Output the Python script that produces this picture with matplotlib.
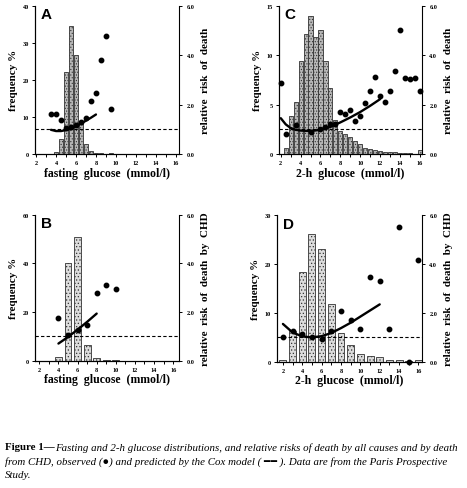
import matplotlib
matplotlib.use("Agg")
import numpy as np
from matplotlib import pyplot as plt

# ---- data ----
# A: fasting glucose, all-cause death
a_bin = [3.5, 4.0, 4.5, 5.0, 5.5, 6.0, 6.5, 7.0, 7.5, 8.0, 8.5, 9.0, 9.5]
a_freq = [0.1, 0.5, 4.1, 22.1, 34.6, 26.6, 8.8, 2.8, 0.8, 0.4, 0.2, 0.1, 0.3]
a_obs_x = [3.5, 4.0, 4.5, 5.0, 5.5, 6.0, 6.5, 7.0, 7.5, 8.0, 8.5, 9.0, 9.5]
a_obs_rr = [1.63, 1.63, 1.36, 1.04, 1.08, 1.18, 1.29, 1.46, 2.14, 2.47, 3.79, 4.78, 1.83]
a_fit_x = [3.5, 4.0, 4.5, 5.0, 5.5, 6.0, 6.5, 7.0, 7.5, 8.0]
a_fit_rr = [0.98, 0.93, 0.93, 0.97, 1.04, 1.13, 1.23, 1.35, 1.47, 1.60]

# B: fasting glucose, CHD death
b_bin = [4, 5, 6, 7, 8, 9, 10]
b_freq = [1.6, 40.2, 50.8, 6.7, 1.0, 0.3, 0.2]
b_obs_x = [4, 5, 6, 7, 8, 9, 10]
b_obs_rr = [1.76, 1.08, 1.25, 1.49, 2.79, 3.13, 2.94]
b_fit_x = [4, 5, 6, 7, 8]
b_fit_rr = [0.71, 0.98, 1.28, 1.60, 1.94]

# C: 2-h glucose, all-cause death
c_bin = [2.5, 3.0, 3.5, 4.0, 4.5, 5.0, 5.5, 6.0, 6.5, 7.0, 7.5, 8.0, 8.5, 9.0,
         9.5, 10.0, 10.5, 11.0, 11.5, 12.0, 12.5, 13.0, 13.5, 14.0, 14.5, 15.0,
         15.5, 16.0]
c_freq = [0.6, 3.8, 5.3, 9.4, 12.1, 14.0, 11.8, 12.6, 9.4, 6.7, 3.4, 2.3,
          2.0, 1.7, 1.3, 1.0, 0.6, 0.5, 0.4, 0.3, 0.2, 0.2, 0.2, 0.1, 0.1,
          0.1, 0.05, 0.4]
c_obs_x = [2.0, 2.5, 3.5, 5.0, 6.0, 6.5, 7.0, 7.5, 8.0, 8.5, 9.0, 9.5, 10.0,
           10.5, 11.0, 11.5, 12.0, 12.5, 13.0, 13.5, 14.0, 14.5, 15.0, 15.5, 16.0]
c_obs_rr = [2.88, 0.82, 1.17, 0.90, 1.00, 1.10, 1.20, 1.20, 1.71, 1.63, 1.77,
            1.35, 1.54, 2.08, 2.56, 3.13, 2.34, 2.10, 2.56, 3.36, 5.04, 3.09,
            3.03, 3.09, 2.56]
c_fit_x = [2, 2.5, 3, 3.5, 4, 5, 6, 7, 8, 9, 10, 11, 12]
c_fit_rr = [1.45, 1.20, 1.05, 0.98, 0.95, 0.93, 0.98, 1.10, 1.28, 1.48, 1.70, 1.95, 2.22]

# D: 2-h glucose, CHD death
d_bin = [2, 3, 4, 5, 6, 7, 8, 9, 10, 11, 12, 13, 14, 15, 16]
d_freq = [0.3, 6.3, 18.4, 26.1, 23.0, 11.9, 5.9, 3.5, 1.7, 1.2, 0.9, 0.3, 0.3, 0.1, 0.4]
d_obs_x = [2, 3, 4, 5, 6, 7, 8, 9, 10, 11, 12, 13, 14, 15, 16]
d_obs_rr = [1.01, 1.27, 1.13, 1.02, 0.95, 1.27, 2.09, 1.72, 1.34, 3.45, 3.32,
            1.34, 5.51, 0.0, 4.15]
d_fit_x = [2, 3, 4, 5, 6, 7, 8, 9, 10, 11, 12]
d_fit_rr = [1.55, 1.20, 1.04, 1.00, 1.05, 1.18, 1.38, 1.60, 1.85, 2.10, 2.35]

SERIF = ['Liberation Serif', 'DejaVu Serif']
plt.rcParams['font.family'] = SERIF
plt.rcParams['hatch.linewidth'] = 0.5


def panel(rect, letter, bins, freq, width, fmax, fticks, ox, orr, fx, frr,
          xlim, xlabel, rlabel, fill, hatch):
    ax = fig.add_axes(rect)
    ax.bar(bins, freq, width, facecolor=fill, edgecolor='#333333',
           hatch=hatch, linewidth=0.6, zorder=2)
    ax.set_xlim(*xlim)
    ax.set_ylim(0, fmax)
    ax.set_yticks(fticks)
    ax.set_xticks(range(2, 17, 2))
    ax.set_xticks(range(3, 17, 2), minor=True)
    for s in ('top', 'right'):
        ax.spines[s].set_visible(False)
    ax.tick_params(labelsize=4.5, length=2.5, width=0.7, pad=2)
    ax.tick_params(which='minor', length=2, width=0.7)
    for lab in ax.get_xticklabels() + ax.get_yticklabels():
        lab.set_fontweight('bold')
    ax.set_xlabel(xlabel, fontsize=8.5, fontweight='bold', labelpad=1)
    ax.set_ylabel('frequency %', fontsize=8, fontweight='bold', labelpad=3)

    rx = ax.twinx()
    rx.set_ylim(0, 6)
    rx.set_yticks([0, 2, 4, 6])
    rx.set_yticklabels(['%.1f' % v for v in [0, 2, 4, 6]], fontweight='bold')
    rx.spines['top'].set_visible(False)
    rx.tick_params(labelsize=4.5, length=2.5, width=0.7, pad=3)
    rx.axhline(1.0, color='black', lw=0.8, ls=(0, (3, 2)))
    rx.plot(ox, orr, 'o', color='black', ms=3.2, clip_on=False)
    rx.plot(fx, frr, '-', color='black', lw=1.7, solid_capstyle='round')
    rx.set_ylabel(rlabel, fontsize=8, fontweight='bold', labelpad=5)
    for s in ax.spines.values():
        s.set_linewidth(0.8)
    for s in rx.spines.values():
        s.set_linewidth(0.8)
    ax.text(0.04, 0.99, letter, transform=ax.transAxes, fontsize=11,
            fontweight='bold', family=['Liberation Sans', 'DejaVu Sans'],
            va='top', ha='left')
    return ax


fig = plt.figure(figsize=(4.67, 4.89), dpi=100)

fg = 'fasting  glucose  (mmol/l)'
hg = '2-h  glucose  (mmol/l)'
panel([0.075, 0.683, 0.308, 0.303], 'A', a_bin, a_freq, 0.42, 40,
      [0, 10, 20, 30, 40], a_obs_x, a_obs_rr, a_fit_x, a_fit_rr,
      (1.9, 16.3), fg, 'relative  risk  of  death', '#b8b8b8', '......')
panel([0.597, 0.683, 0.306, 0.303], 'C', c_bin, c_freq, 0.42, 15,
      [0, 5, 10, 15], c_obs_x, c_obs_rr, c_fit_x, c_fit_rr,
      (1.8, 16.2), hg, 'relative  risk  of  death', '#b8b8b8', '......')
panel([0.075, 0.26, 0.308, 0.299], 'B', b_bin, b_freq, 0.72, 60,
      [0, 20, 40, 60], b_obs_x, b_obs_rr, b_fit_x, b_fit_rr,
      (1.55, 16.6), fg, 'relative  risk  of  death  by  CHD', '#dcdcdc', '.....')
panel([0.593, 0.258, 0.31, 0.30], 'D', d_bin, d_freq, 0.72, 30,
      [0, 10, 20, 30], d_obs_x, d_obs_rr, d_fit_x, d_fit_rr,
      (1.38, 16.34), hg, 'relative  risk  of  death  by  CHD', '#dcdcdc', '.....')

# caption
cap = fig.add_axes([0, 0, 1, 1])
cap.axis('off')
cap.set_xlim(0, 467)
cap.set_ylim(489, 0)
cs = 7.8
t1 = cap.text(5, 448, 'Figure 1\u2014', fontsize=cs, fontweight='bold',
              va='center', ha='left')
cap.annotate('Fasting and 2-h glucose distributions, and relative risks of death '
             'by all causes and by death', xy=(1, 0.5), xycoords=t1,
             va='center', ha='left', fontsize=cs, style='italic')
cap.text(5, 462, 'from CHD, observed (\u25cf) and predicted by the Cox model ( '
         '\u2501\u2501 ). Data are from the Paris Prospective',
         fontsize=cs, style='italic', va='center', ha='left',
         family=['Liberation Serif', 'DejaVu Sans'])
cap.text(5, 475, 'Study.', fontsize=cs, style='italic', va='center', ha='left')

fig.savefig('out.png', dpi=100)
plt.close(fig)
